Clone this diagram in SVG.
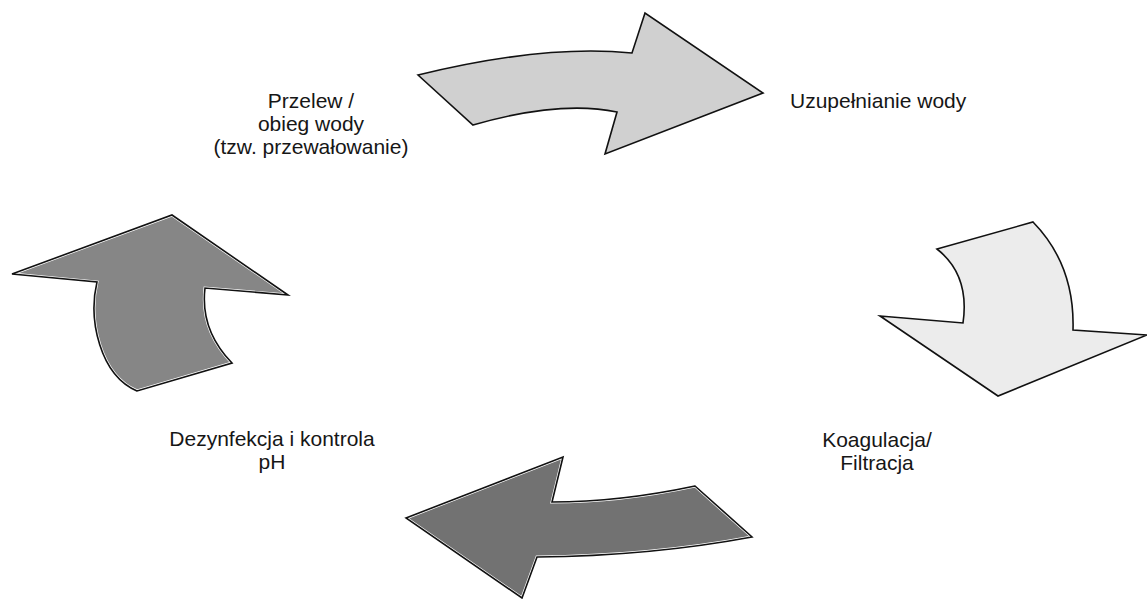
<svg xmlns="http://www.w3.org/2000/svg" width="1147" height="599" viewBox="0 0 1147 599">
<defs>
<style>
.arrow{stroke:#111;stroke-width:1.6;stroke-linejoin:miter}
.lbl{font-family:"Liberation Sans",Arial,sans-serif;font-size:21px;fill:#161616}
.halo{fill:none;stroke:#fff;stroke-width:3}
</style>
<path id="pTop" d="M418,75 Q545,44 632,53 L645,13 L763,93 L605,154 L617,112 Q560,100 473,125 Z"/>
<path id="pRight" d="M937,249 L1033,222 Q1075,265 1073,330 L1147,335 L998,396 L880,316 L963,323 Q970,275 937,249 Z"/>
<path id="pBottom" d="M406,518 L563,457 L552,502 Q620,502 695,486 L752,537 Q650,556 537,557 L522,598 Z"/>
<path id="pLeft" d="M172,215 L288,295 L205,288 Q200,330 232,363 L137,391 C100,375 88,320 97,282 L12,274 Z"/>
<clipPath id="cBottom"><use href="#pBottom"/></clipPath>
<clipPath id="cLeft"><use href="#pLeft"/></clipPath>
</defs>
<rect width="1147" height="599" fill="#fff"/>
<g id="connectors">
<g id="arrow-top"><use href="#pTop" class="arrow" fill="#d0d0d0"/></g>
<g id="arrow-right"><use href="#pRight" class="arrow" fill="#ececec"/></g>
<g id="arrow-bottom"><use href="#pBottom" fill="#727272"/><use href="#pBottom" class="halo" clip-path="url(#cBottom)"/><use href="#pBottom" class="arrow" fill="none"/></g>
<g id="arrow-left"><use href="#pLeft" fill="#868686"/><use href="#pLeft" class="halo" clip-path="url(#cLeft)"/><use href="#pLeft" class="arrow" fill="none"/></g>
</g>
<g id="node-przelew">
<text class="lbl" x="311" y="108" text-anchor="middle">Przelew /</text>
<text class="lbl" x="311" y="131" text-anchor="middle">obieg wody</text>
<text class="lbl" x="311" y="154" text-anchor="middle">(tzw. przewałowanie)</text>
</g>
<g id="node-uzupelnianie">
<text class="lbl" x="790" y="108">Uzupełnianie wody</text>
</g>
<g id="node-koagulacja">
<text class="lbl" x="877" y="447" text-anchor="middle">Koagulacja/</text>
<text class="lbl" x="877" y="470" text-anchor="middle">Filtracja</text>
</g>
<g id="node-dezynfekcja">
<text class="lbl" x="272" y="446" text-anchor="middle">Dezynfekcja i kontrola</text>
<text class="lbl" x="272" y="469" text-anchor="middle">pH</text>
</g>
</svg>
